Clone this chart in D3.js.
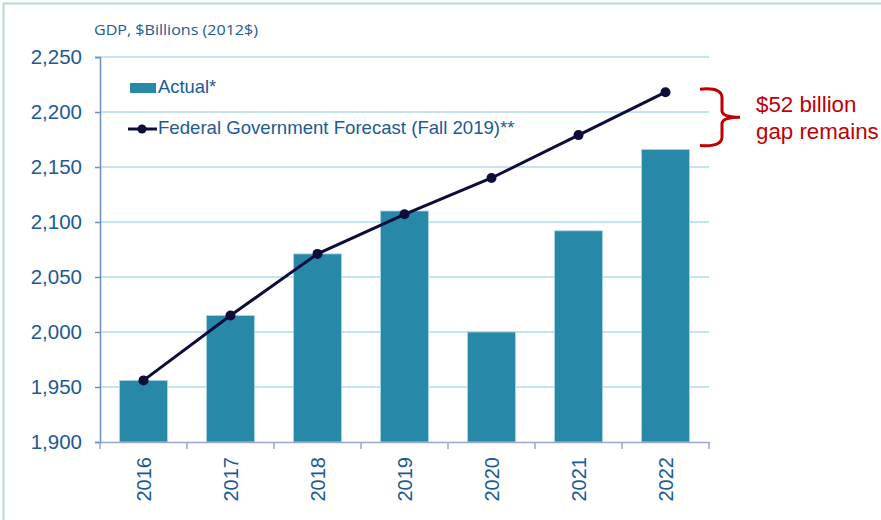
<!DOCTYPE html>
<html><head><meta charset="utf-8">
<script src="https://cdn.jsdelivr.net/npm/d3@7"></script>
<style>html,body{margin:0;padding:0;background:#fff;}svg{display:block;}</style>
</head><body>
<svg id="chart" width="881" height="520"></svg>
<script>
const years = ["2016","2017","2018","2019","2020","2021","2022"];
const actual = [1956, 2015, 2071, 2110, 2000, 2092, 2166];
const forecast = [1956, 2015, 2071, 2107, 2140, 2179, 2218];
const yTicks = [1900, 1950, 2000, 2050, 2100, 2150, 2200, 2250];
const titleText = "GDP, $Billions (2012$)";
const legendLabels = ["Actual*", "Federal Government Forecast (Fall 2019)**"];
const noteLines = ["$52 billion", "gap remains"];

(function () {
const textColor = "#1c5a96", barColor = "#2789a7", lineColor = "#0d0c3b", red = "#c00000";
const svg = d3.select("#chart");
const pLeft = 100, pRight = 709, pTop = 57, pBottom = 442;

// frame border
svg.append("path").attr("d", "M3.5,520 V3.5 H881").attr("fill","none")
  .attr("stroke","#b4dccd").attr("stroke-width",2);

const x = d3.scaleBand().domain(years).range([pLeft, pRight]).paddingInner(0.45).paddingOuter(0.225);
const y = d3.scaleLinear().domain([1900, 2250]).range([pBottom, pTop]);

// gridlines
svg.append("g").selectAll("line").data(yTicks.slice(1)).join("line")
  .attr("x1", pLeft).attr("x2", pRight).attr("y1", d => y(d)).attr("y2", d => y(d))
  .attr("stroke", "#b2dce9").attr("stroke-width", 1.5);

// bars
svg.append("g").selectAll("rect").data(actual).join("rect")
  .attr("x", (d,i) => x(years[i])).attr("width", x.bandwidth())
  .attr("y", d => y(d)).attr("height", d => y(1900) - y(d))
  .attr("fill", barColor).attr("stroke", "#a9d6e6").attr("stroke-width", 0.8);

// y axis
const yAxis = d3.axisLeft(y).tickValues(yTicks).tickFormat(d3.format(",")).tickSize(5).tickPadding(13);
const gy = svg.append("g").attr("transform", `translate(${pLeft},0)`).call(yAxis);
gy.select(".domain").attr("stroke", "#6d8fc0").attr("stroke-width", 1.5);
gy.selectAll(".tick line").attr("stroke", "#6d8fc0").attr("stroke-width", 1.5);
gy.selectAll(".tick text").attr("fill", textColor).attr("font-family", "Liberation Sans, Arial, sans-serif")
  .attr("font-size", 20.5);

// x axis
const gx = svg.append("g").attr("transform", `translate(0,${pBottom})`)
  .call(d3.axisBottom(x).tickSize(0).tickPadding(0));
gx.select(".domain").attr("stroke", "#98a6c8").attr("stroke-width", 1.5);
gx.selectAll(".tick text").attr("fill", textColor).attr("font-family", "Liberation Sans, Arial, sans-serif")
  .attr("font-size", 20).attr("text-anchor", "end").attr("dy", "0.35em")
  .attr("transform", "translate(0,15) rotate(-90)").attr("x", 0).attr("y", 0);
// category boundary ticks
const bw = (pRight - pLeft) / years.length;
gx.append("g").selectAll("line").data(d3.range(years.length + 1)).join("line")
  .attr("x1", i => pLeft + i * bw).attr("x2", i => pLeft + i * bw)
  .attr("y1", 0).attr("y2", 7).attr("stroke", "#98a6c8").attr("stroke-width", 1.5);

// forecast line
const cx = (d,i) => x(years[i]) + x.bandwidth() / 2;
svg.append("path").datum(forecast)
  .attr("d", d3.line().x(cx).y(d => y(d)))
  .attr("fill", "none").attr("stroke", lineColor).attr("stroke-width", 3);
svg.append("g").selectAll("circle").data(forecast).join("circle")
  .attr("cx", cx).attr("cy", d => y(d)).attr("r", 5).attr("fill", lineColor);

// title
svg.append("text").attr("x", 94).attr("y", 35).attr("fill", textColor)
  .attr("font-family", "Open Sans, sans-serif").attr("font-size", 15)
  .attr("textLength", 164).attr("lengthAdjust", "spacingAndGlyphs").text(titleText);

// legend
svg.append("rect").attr("x", 130).attr("y", 83).attr("width", 26).attr("height", 10).attr("fill", barColor);
svg.append("text").attr("x", 158).attr("y", 93).attr("fill", textColor)
  .attr("font-family", "Liberation Sans, Arial, sans-serif").attr("font-size", 18.4).text(legendLabels[0]);
svg.append("line").attr("x1", 128).attr("x2", 157).attr("y1", 129).attr("y2", 129)
  .attr("stroke", lineColor).attr("stroke-width", 3);
svg.append("circle").attr("cx", 142).attr("cy", 129).attr("r", 4.5).attr("fill", lineColor);
svg.append("text").attr("x", 158).attr("y", 134).attr("fill", textColor)
  .attr("font-family", "Liberation Sans, Arial, sans-serif").attr("font-size", 18.6).text(legendLabels[1]);

// brace annotation
const yTop = y(forecast[6]) - 3, yBot = y(actual[6]) - 4, yMid = (yTop + yBot) / 2;
svg.append("path")
  .attr("d", `M700,${yTop} Q721,${yTop-2} 722,${yTop+8} L722,${yMid-6} Q723,${yMid} 740,${yMid} Q723,${yMid} 722,${yMid+6} L722,${yBot-8} Q721,${yBot+2} 700,${yBot}`)
  .attr("fill", "none").attr("stroke", red).attr("stroke-width", 3);
svg.append("text").attr("x", 756).attr("y", 112).attr("fill", red)
  .attr("font-family", "Liberation Sans, Arial, sans-serif").attr("font-size", 22.3).text(noteLines[0]);
svg.append("text").attr("x", 756).attr("y", 139).attr("fill", red)
  .attr("font-family", "Liberation Sans, Arial, sans-serif").attr("font-size", 22.3).text(noteLines[1]);
})();
</script>
</body></html>
